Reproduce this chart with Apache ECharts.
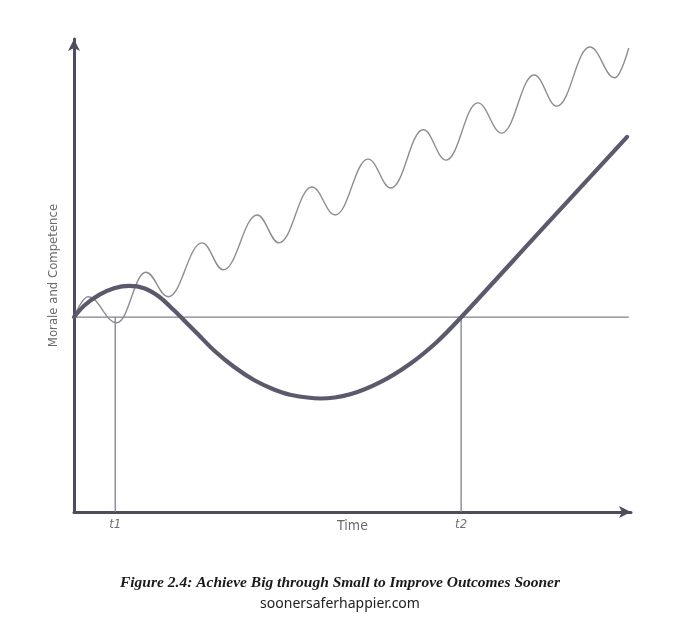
<!DOCTYPE html>
<html>
<head>
<meta charset="utf-8">
<script src="https://cdn.jsdelivr.net/npm/echarts@6/dist/echarts.min.js"></script>
<style>
  html, body { margin: 0; padding: 0; background: #fff; }
  #chart { width: 680px; height: 619px; }
</style>
</head>
<body>
<div id="chart"></div>
<script>
// wavy thin line: start, then alternating peaks / troughs
var waveX = [0, 2.5, 7.7, 12.9, 16.9, 23.0, 26.8, 32.9, 36.8, 42.7, 46.9, 52.8, 56.9, 62.7, 66.8, 72.5, 76.8, 82.6, 86.7, 92.6, 97.1, 99.6];
var waveY = [41.2, 45.5, 40.0, 50.7, 45.5, 56.9, 51.2, 62.8, 56.9, 68.7, 62.8, 74.6, 68.5, 80.8, 74.4, 86.5, 80.1, 92.4, 85.8, 98.3, 91.8, 98.1];

// thick curve: small rise, dip below the start level, then steady climb
var thickX = [0, 1.8, 4.5, 7.2, 9.9, 12.6, 15.3, 17.9, 19.7, 22.4, 25.1, 28.7, 32.3, 35.9, 38.8, 44.2, 49.6, 54.9, 60.3, 65.1, 69.3, 84.2, 99.3];
var thickY = [41.2, 43.6, 45.9, 47.3, 47.8, 47.3, 45.5, 42.7, 40.6, 37.4, 34.2, 30.7, 27.9, 25.9, 24.8, 24.0, 24.9, 27.4, 31.3, 35.9, 40.9, 60.0, 79.3];

var baseLevel = 41.2;
var baseEnd = 99.6;
var markNames = ['t1', 't2'];
var markX = [7.4, 69.5];

var titleText = 'Figure 2.4: Achieve Big through Small to Improve Outcomes Sooner';
var subText = 'soonersaferhappier.com';

function pairs(xs, ys) {
  var out = [];
  for (var i = 0; i < xs.length; i++) out.push([xs[i], ys[i]]);
  return out;
}

var chart = echarts.init(document.getElementById('chart'));

var axisColor = '#4d4d5c';
var narrow = '"Liberation Sans Narrow", "DejaVu Sans Condensed", "Roboto", sans-serif';

var series = [
  {
    name: 'baseline',
    type: 'line',
    data: [[0, baseLevel], [baseEnd, baseLevel]],
    symbol: 'none',
    lineStyle: { color: '#80808c', width: 1.3 },
    z: 1
  }
];

// vertical markers at t1 / t2 with their labels under the axis
for (var i = 0; i < markX.length; i++) {
  series.push({
    name: markNames[i],
    type: 'line',
    data: [[markX[i], 0], [markX[i], baseLevel]],
    symbol: 'circle',
    symbolSize: 0.1,
    showSymbol: true,
    lineStyle: { color: '#80808c', width: 1.3 },
    label: {
      show: true,
      position: 'bottom',
      distance: 6,
      color: '#707070',
      fontStyle: 'italic',
      fontFamily: narrow,
      fontSize: 13,
      formatter: (function (n) {
        return function (p) { return p.dataIndex === 0 ? n : ''; };
      })(markNames[i])
    },
    z: 1
  });
}

series.push({
  name: 'wave',
  type: 'line',
  data: pairs(waveX, waveY),
  symbol: 'none',
  smooth: 0.4,
  smoothMonotone: 'x',
  lineStyle: { color: '#8e8e8e', width: 1.4 },
  z: 2
});

series.push({
  name: 'thick',
  type: 'line',
  data: pairs(thickX, thickY),
  symbol: 'none',
  smooth: 0.3,
  lineStyle: { color: '#5a5a6c', width: 4.2, cap: 'round' },
  z: 3
});

var option = {
  animation: false,
  backgroundColor: '#ffffff',
  title: [
    {
      text: titleText,
      left: 'center',
      top: 570,
      textStyle: {
        fontFamily: '"Liberation Serif", "DejaVu Serif", serif',
        fontStyle: 'italic',
        fontWeight: 'bold',
        fontSize: 15.5,
        color: '#1a1a1a'
      }
    },
    {
      text: subText,
      left: 'center',
      top: 592,
      textStyle: {
        fontFamily: '"Noto Sans", "DejaVu Sans", sans-serif',
        fontWeight: 'normal',
        fontSize: 14,
        color: '#222222'
      }
    }
  ],
  grid: { left: 74, right: 49, top: 39, bottom: 107 },
  xAxis: {
    type: 'value',
    min: 0,
    max: 100,
    name: 'Time',
    nameLocation: 'middle',
    nameGap: 7,
    nameTextStyle: { color: '#6a6a6a', fontFamily: narrow, fontSize: 14, verticalAlign: 'top' },
    axisLine: {
      show: true,
      symbol: ['none', 'arrow'],
      symbolSize: [9, 12],
      lineStyle: { color: axisColor, width: 3 }
    },
    axisTick: { show: false },
    axisLabel: { show: false },
    splitLine: { show: false }
  },
  yAxis: {
    type: 'value',
    min: 0,
    max: 100,
    name: 'Morale and Competence',
    nameLocation: 'middle',
    nameGap: 14,
    nameTextStyle: { color: '#6a6a6a', fontFamily: narrow, fontSize: 13 },
    axisLine: {
      show: true,
      symbol: ['none', 'arrow'],
      symbolSize: [9, 12],
      lineStyle: { color: axisColor, width: 3 }
    },
    axisTick: { show: false },
    axisLabel: { show: false },
    splitLine: { show: false }
  },
  series: series
};

chart.setOption(option);
</script>
</body>
</html>
